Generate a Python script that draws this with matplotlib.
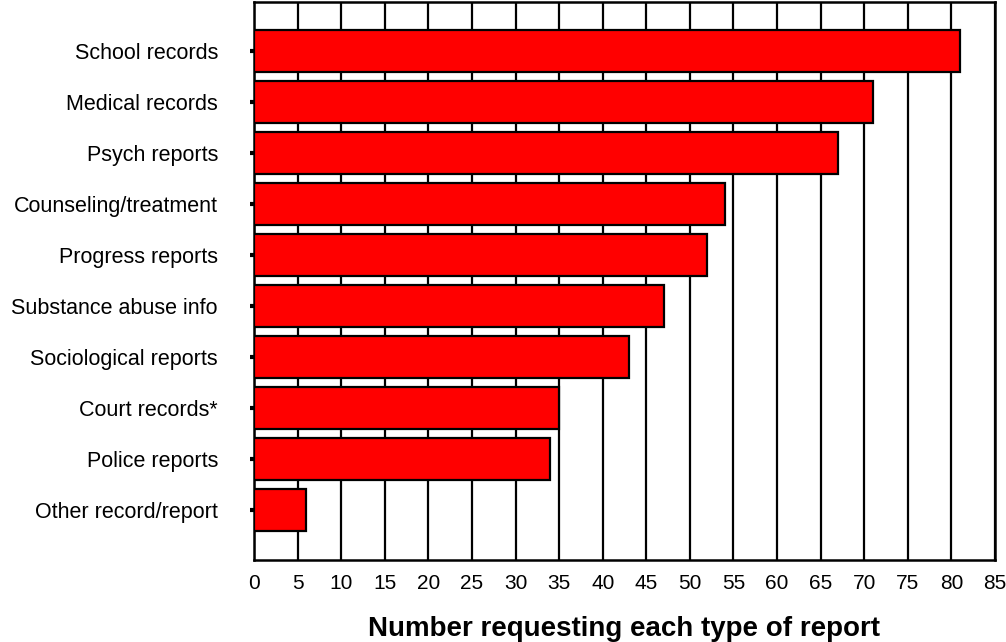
import matplotlib
matplotlib.use("Agg")
import matplotlib.pyplot as plt
import numpy as np

plt.rcParams["font.family"] = ["Liberation Sans", "DejaVu Sans"]

categories = [
    "School records",
    "Medical records",
    "Psych reports",
    "Counseling/treatment",
    "Progress reports",
    "Substance abuse info",
    "Sociological reports",
    "Court records*",
    "Police reports",
    "Other record/report",
]
counts = [81, 71, 67, 54, 52, 47, 43, 35, 34, 6]
x_ticks = list(range(0, 90, 5))

fig = plt.figure(figsize=(10.06, 6.42), dpi=100)
ax = fig.add_axes([254 / 1006, 1 - 560 / 642, (995 - 254) / 1006, (560 - 2) / 642])

y = np.arange(len(categories))
ax.barh(y, counts, height=0.82, color="#ff0000", edgecolor="black",
        linewidth=1.6, zorder=3)

ax.set_xlim(0, 85)
ax.set_ylim(9.98, -0.96)
ax.set_xticks(x_ticks)
ax.set_xticklabels([str(v) for v in x_ticks], fontsize=15)
ax.set_yticks(y)
ax.set_yticklabels(categories, fontsize=15.5)

ax.xaxis.grid(True, color="black", linewidth=1.6, zorder=1)
ax.set_axisbelow(True)
ax.tick_params(axis="x", length=0, pad=10)
ax.tick_params(axis="y", length=3, width=3, pad=23, direction="out")

for s in ax.spines.values():
    s.set_linewidth(1.8)
    s.set_color("black")

ax.set_xlabel("Number requesting each type of report", fontsize=20,
              fontweight="bold", labelpad=17)

fig.savefig("out.png", dpi=100)
